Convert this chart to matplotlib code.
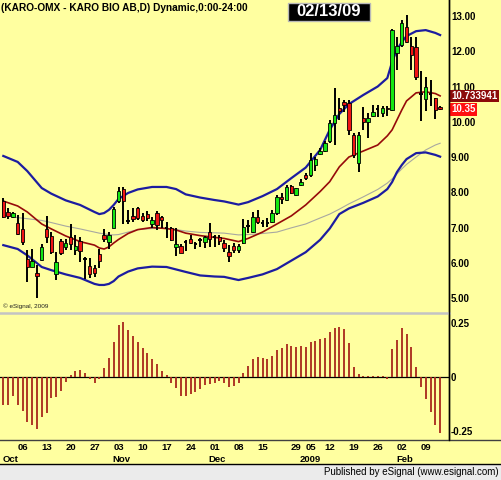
import numpy as np
import matplotlib
matplotlib.use("Agg")
import matplotlib.pyplot as plt
from matplotlib.patches import Rectangle
from matplotlib.lines import Line2D
from matplotlib.transforms import blended_transform_factory

# ---------------- data ----------------
opens = [7.76, 7.44, 7.29, 7.14, 6.95, 6.12, 5.88, 5.70, 6.08, 6.95,
         6.75, 5.68, 6.62, 6.44, 6.72, 6.36, 6.62, 6.12, 5.92, 5.86,
         6.26, 6.78, 6.58, 7.00, 7.74, 8.08, 7.18, 7.33, 7.54, 7.33,
         7.38, 7.10, 7.42, 7.30, 7.00, 6.98, 6.44, 6.48, 6.58, 6.67,
         6.52, 6.64, 6.60, 6.86, 6.72, 6.73, 6.55, 6.31, 6.48, 6.36,
         6.55, 7.05, 6.88, 7.29, 7.12, 7.13, 7.16, 7.40, 7.87, 7.78,
         8.18, 7.92, 8.21, 8.49, 8.49, 8.77, 9.09, 9.18, 9.46, 9.97,
         10.40, 10.55, 10.52, 9.62, 8.84, 10.10, 9.98, 10.16, 10.36, 10.26,
         10.40, 10.33, 11.96, 12.18, 12.70, 12.15, 12.11, 10.80, 10.64, 10.80,
         10.67, 10.42]
highs = [7.84, 7.56, 7.43, 7.35, 7.42, 6.35, 6.40, 5.95, 6.52, 7.32,
         6.88, 6.30, 6.68, 6.68, 7.10, 6.78, 6.72, 6.17, 6.13, 5.93,
         6.38, 6.96, 6.88, 7.58, 8.16, 8.16, 7.50, 7.54, 7.58, 7.40,
         7.48, 7.31, 7.48, 7.34, 7.16, 7.02, 6.98, 6.52, 6.65, 6.79,
         6.60, 6.71, 6.76, 7.14, 6.79, 6.78, 6.65, 6.50, 6.55, 6.53,
         7.23, 7.21, 7.45, 7.50, 7.21, 7.26, 7.50, 7.92, 7.97, 8.20,
         8.20, 8.13, 8.37, 8.54, 9.10, 8.99, 9.25, 9.45, 10.05, 10.95,
         10.66, 10.63, 10.62, 9.68, 9.72, 10.41, 10.24, 10.48, 10.48, 10.45,
         10.45, 12.62, 12.41, 12.90, 13.03, 12.40, 12.40, 11.45, 11.28, 11.18,
         10.68, 10.44]
lows = [7.28, 7.23, 7.27, 6.78, 6.50, 5.45, 5.87, 5.00, 6.05, 6.55,
        6.25, 5.52, 6.22, 6.35, 6.35, 6.22, 6.02, 5.53, 5.56, 5.60,
        5.84, 6.60, 6.38, 6.98, 7.70, 7.10, 7.10, 7.16, 7.20, 7.16,
        7.18, 7.00, 6.93, 7.00, 6.69, 6.62, 6.19, 6.27, 6.34, 6.52,
        6.38, 6.44, 6.41, 6.46, 6.44, 6.50, 6.31, 6.03, 6.27, 6.28,
        6.52, 6.84, 6.84, 7.10, 7.02, 7.02, 7.12, 7.36, 7.67, 7.76,
        7.94, 7.90, 8.18, 8.35, 8.44, 8.61, 9.05, 9.15, 9.40, 9.34,
        10.05, 10.29, 9.62, 8.98, 8.58, 9.77, 9.53, 10.14, 10.13, 10.13,
        10.17, 10.30, 11.47, 12.13, 12.22, 11.47, 11.18, 10.03, 10.31, 10.45,
        10.07, 10.33]
closes = [7.31, 7.32, 7.41, 6.82, 6.58, 5.88, 6.05, 5.62, 6.45, 6.74,
          6.30, 6.03, 6.28, 6.55, 6.52, 6.48, 6.33, 6.12, 5.67, 5.72,
          6.05, 6.66, 6.80, 7.52, 8.04, 7.76, 7.18, 7.24, 7.28, 7.22,
          7.26, 7.21, 7.07, 7.20, 7.00, 6.65, 6.53, 6.29, 6.58, 6.56,
          6.52, 6.64, 6.72, 6.67, 6.72, 6.62, 6.42, 6.20, 6.36, 6.48,
          7.02, 7.05, 7.31, 7.17, 7.12, 7.13, 7.40, 7.87, 7.80, 8.14,
          7.97, 8.11, 8.30, 8.40, 8.91, 8.93, 9.18, 9.39, 9.96, 10.19,
          10.31, 10.47, 9.78, 9.06, 9.62, 10.00, 10.10, 10.29, 10.36, 10.40,
          10.35, 12.60, 12.15, 12.81, 12.27, 11.89, 11.26, 10.80, 10.98, 10.80,
          10.33, 10.35]

osc = [-0.130, -0.130, -0.090, -0.130, -0.156, -0.210, -0.222, -0.242, -0.187, -0.165,
       -0.099, -0.091, -0.063, -0.022, 0.010, 0.028, 0.032, 0.020, -0.010, -0.026,
       -0.011, 0.043, 0.086, 0.163, 0.241, 0.256, 0.218, 0.190, 0.163, 0.133,
       0.110, 0.082, 0.060, 0.029, 0.009, -0.026, -0.052, -0.088, -0.088, -0.079,
       -0.068, -0.057, -0.037, -0.032, -0.026, -0.018, -0.029, -0.045, -0.042, -0.029,
       0.020, 0.051, 0.082, 0.091, 0.089, 0.082, 0.097, 0.125, 0.136, 0.151,
       0.144, 0.140, 0.144, 0.140, 0.160, 0.167, 0.174, 0.182, 0.210, 0.228,
       0.230, 0.221, 0.156, 0.048, 0.014, 0.006, 0.006, 0.006, 0.006, 0.006,
       -0.009, 0.128, 0.171, 0.225, 0.199, 0.140, 0.048, -0.048, -0.103, -0.160,
       -0.222, -0.258]

line_idx = [0, 3, 5, 8, 10, 13, 16, 19, 20, 21, 22, 23, 24, 26, 28, 31, 34, 36,
            38, 41, 44, 46, 49, 51, 54, 57, 60, 63, 66, 68, 70, 72, 75, 78, 80,
            81, 82, 83, 84, 86, 88, 90, 91]
upper_band = [9.03, 8.86, 8.60, 8.12, 7.96, 7.77, 7.64, 7.44, 7.38, 7.41, 7.50,
              7.64, 7.81, 7.98, 8.08, 8.15, 8.15, 8.09, 7.94, 7.85, 7.78, 7.74,
              7.65, 7.72, 7.89, 8.09, 8.40, 8.70, 9.20, 9.77, 10.22, 10.50,
              10.76, 11.00, 11.24, 11.70, 12.04, 12.26, 12.43, 12.57, 12.60,
              12.52, 12.46]
lower_band = [6.50, 6.39, 6.21, 5.88, 5.79, 5.67, 5.57, 5.40, 5.37, 5.37, 5.40,
              5.48, 5.61, 5.75, 5.84, 5.89, 5.88, 5.81, 5.74, 5.64, 5.61, 5.60,
              5.51, 5.57, 5.67, 5.82, 6.06, 6.30, 6.65, 6.97, 7.38, 7.54, 7.70,
              7.88, 8.09, 8.29, 8.57, 8.77, 8.94, 9.11, 9.13, 9.06, 9.01]
ma_red = [7.75, 7.61, 7.44, 7.10, 6.96, 6.76, 6.60, 6.50, 6.42, 6.39, 6.45,
          6.56, 6.66, 6.83, 6.94, 7.00, 6.97, 6.93, 6.84, 6.77, 6.72, 6.69,
          6.60, 6.69, 6.87, 7.10, 7.33, 7.64, 8.02, 8.30, 8.72, 9.00, 9.17,
          9.34, 9.60, 9.77, 10.05, 10.33, 10.59, 10.82, 10.85, 10.80, 10.733941]
ma_gray = [7.35, 7.28, 7.25, 7.20, 7.14, 7.04, 6.96, 6.87, 6.84, 6.82, 6.80,
           6.79, 6.80, 6.87, 6.94, 6.97, 6.98, 6.94, 6.90, 6.86, 6.85, 6.84,
           6.79, 6.80, 6.83, 6.87, 6.99, 7.10, 7.27, 7.38, 7.52, 7.67, 7.87,
           8.08, 8.26, 8.38, 8.52, 8.66, 8.79, 9.00, 9.20, 9.34, 9.39]

price_ticks = [5, 6, 7, 8, 9, 10, 11, 12, 13]
osc_ticks = [0.25, 0, -0.25]
osc_tick_labels = ["0.25", "0", "-0.25"]
day_idx = [3, 8, 13, 18, 23, 28, 33, 38, 43, 48, 53, 60, 63, 67, 72, 77, 82, 87]
day_labels = ["06", "13", "20", "27", "03", "10", "17", "24", "01", "08", "15",
              "29", "05", "12", "19", "26", "02", "09"]
month_idx = [0, 23, 43, 62, 82]
month_labels = ["Oct", "Nov", "Dec", "2009", "Feb"]
last_ma = 10.733941
last_close = 10.35

# ---------------- style ----------------
BG = "#FFFFA0"
FONT = "Liberation Sans"
W, H = 502, 480

fig = plt.figure(figsize=(W / 100, H / 100), dpi=100, facecolor=BG)


def fx(px):
    return px / W


def fy(py):
    return 1 - py / H


ax = fig.add_axes([0, fy(312), fx(449), 312 / H])
ax2 = fig.add_axes([0, fy(439), fx(449), (439 - 314) / H])
for a in (ax, ax2):
    a.set_facecolor(BG)
    a.set_xlim(-0.6875, 92.85)
    for s in ("left", "top", "bottom"):
        a.spines[s].set_visible(False)
    a.spines["right"].set_color("black")
    a.spines["right"].set_linewidth(1.0)
    a.set_xticks([])
    a.yaxis.tick_right()
    a.tick_params(axis="y", length=0, pad=1.5, labelsize=7)

ax.set_ylim(4.603, 13.454)
ax2.set_ylim(-0.287, 0.2917)

# bands and averages
ax.plot(line_idx, ma_gray, color="#A8A8A0", lw=0.8, zorder=2)
ax.plot(line_idx, upper_band, color="#1C1CA0", lw=1.6, zorder=2)
ax.plot(line_idx, lower_band, color="#1C1CA0", lw=1.6, zorder=2)
ax.plot(line_idx, ma_red, color="#960A0A", lw=1.2, zorder=2)

# candles
bw = 0.72
for i, (o, h, l, c) in enumerate(zip(opens, highs, lows, closes)):
    ax.vlines(i, l, h, color="black", lw=1.4, zorder=3)
    if abs(c - o) < 1e-9:
        ax.hlines(o, i - bw / 2, i + bw / 2, color="black", lw=1.4, zorder=4)
    else:
        col = "#14E614" if c > o else "#F01414"
        ax.add_patch(Rectangle((i - bw / 2, min(o, c)), bw, abs(c - o),
                               facecolor=col, edgecolor="black", lw=0.6, zorder=4))

ax.set_yticks(price_ticks)
ax.set_yticklabels([f"{t:.2f}" for t in price_ticks],
                   fontfamily=FONT, fontweight="bold")

# value flags on the price axis
bt = blended_transform_factory(ax.transAxes, ax.transData)
ax.text(1.0 + 2.5 / 449, last_ma, f"{last_ma:.6f}", transform=bt, ha="left",
        va="center", fontsize=7, fontweight="bold", fontfamily=FONT,
        color="white", clip_on=False, zorder=10,
        bbox=dict(boxstyle="square,pad=0.12", facecolor="#8C0A0A", edgecolor="none"))
ax.text(1.0 + 2.5 / 449, last_close, f"{last_close:.2f}", transform=bt, ha="left",
        va="center", fontsize=7, fontweight="bold", fontfamily=FONT,
        color="white", clip_on=False, zorder=10,
        bbox=dict(boxstyle="square,pad=0.12", facecolor="#FF1010", edgecolor="none"))

ax.text(3 / 449, (312 - 306) / 312, "\u00a9 eSignal, 2009", transform=ax.transAxes,
        fontsize=4.6, fontfamily=FONT, color="#202020", va="center", ha="left")

# oscillator
x_idx = np.arange(len(osc))
ax2.vlines(x_idx, 0, osc, color="#A8281C", lw=1.3, zorder=3)
ax2.axhline(0, color="black", lw=0.9, zorder=2)
ax2.set_yticks(osc_ticks)
ax2.set_yticklabels(osc_tick_labels, fontfamily=FONT, fontweight="bold")

# date labels
bt2 = blended_transform_factory(ax2.transData, ax2.transAxes)
for xi, lab in zip(day_idx, day_labels):
    ax2.text(xi - 0.1, -8 / 125, lab, transform=bt2, ha="left", va="center",
             fontsize=6.8, fontweight="bold", fontfamily=FONT, clip_on=False)
for xi, lab in zip(month_idx, month_labels):
    ax2.text(xi - 0.2, -20 / 125, lab, transform=bt2, ha="left", va="center",
             fontsize=6.8, fontweight="bold", fontfamily=FONT, clip_on=False)

# frame lines
fig.add_artist(Line2D([0, fx(449)], [fy(312.5), fy(312.5)], color="#C4C4C4", lw=1.8))
fig.add_artist(Line2D([0, 1], [fy(439.5), fy(439.5)], color="#404040", lw=1.0))
fig.add_artist(Line2D([fx(449), fx(449)], [fy(0), fy(440)], color="black", lw=1.0))

# footer
fig.add_artist(Rectangle((0, 0), 1, 16 / H, transform=fig.transFigure,
                         facecolor="#EBEBEB", edgecolor="none"))
fig.add_artist(Line2D([0, 1], [fy(463.5), fy(463.5)], color="black", lw=1.0))
fig.text(fx(499), fy(472), "Published by eSignal (www.esignal.com)", ha="right",
         va="center", fontsize=7, fontfamily=FONT, color="black")

# title and date box
fig.text(fx(1), fy(8), "(KARO-OMX - KARO BIO AB,D) Dynamic,0:00-24:00", ha="left",
         va="center", fontsize=7.3, fontweight="bold", fontfamily=FONT, color="black")
fig.add_artist(Rectangle((fx(288), fy(21)), 82 / W, 18 / H, transform=fig.transFigure,
                         facecolor="black", edgecolor="#B8B8B8", lw=1.0))
fig.text(fx(329), fy(12), "02/13/09", ha="center", va="center", fontsize=12,
         fontweight="bold", fontfamily=FONT, color="white")

fig.savefig("out.png", dpi=100, facecolor=BG)
